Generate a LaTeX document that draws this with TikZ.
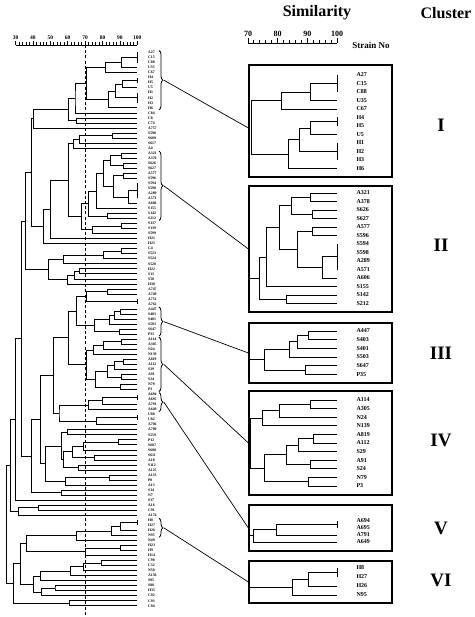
\documentclass[tikz,border=0pt]{standalone}
\usepackage{fontspec}
\setmainfont{Liberation Serif}
\usetikzlibrary{calc,positioning,decorations.pathreplacing}

% dendrogram helpers
\newcommand{\dmerge}[4]{% name, similarity, upper child, lower child
  \coordinate (jtmp) at ($(#3)!0.5!(#4)$);
  \coordinate (#1) at (jtmp -| #2,0);
  \draw (#3) -| (#1) |- (#4);}
\newcommand{\samebar}[3]{% name, first leaf, last leaf (100 % identical)
  \draw (#2) -- (#3);
  \coordinate (#1) at ($(#2)!0.5!(#3)$);}

\begin{document}
\begin{tikzpicture}[
    x=1pt, y=-1pt,
    % left dendrogram: x = similarity, y = strain index
    lefttree/.style={shift={(-36.7pt,-52.5pt)}, x=1.74pt, y=-5.03pt, line width=0.7pt},
    leftaxis/.style={shift={(-36.7pt,0pt)}, x=1.74pt, y=-1pt, line width=0.7pt},
    % cluster panels: x = similarity, y = pixels
    rightpanel/.style={shift={(40.1pt,0pt)}, x=2.97pt, y=-1pt, line width=0.9pt},
    llbl/.style={font=\bfseries\fontsize{3.8}{4}\selectfont, inner sep=0pt},
    rlbl/.style={font=\bfseries\fontsize{6}{7}\selectfont, inner sep=0pt},
    lscl/.style={font=\bfseries\fontsize{5.5}{6}\selectfont, inner sep=0pt},
    rscl/.style={font=\bfseries\fontsize{8}{9}\selectfont, inner sep=0pt},
    ttl/.style={font=\bfseries\fontsize{16}{18}\selectfont},
    roman/.style={font=\bfseries\fontsize{19}{21}\selectfont},
    clbox/.style={draw, line width=1.2pt, minimum width=143pt, inner sep=0pt},
    clbrace/.style={decorate, decoration={brace, amplitude=4pt}, line width=0.8pt},
    link/.style={line width=0.7pt}
]
\useasboundingbox (0,0) rectangle (474,617);

% ====================
% titles
% ====================
\node[ttl] (simtitle) at (317,13) {Similarity};
\node[ttl] (cltitle) at (446,13) {Cluster};

% ====================
% left scale and 70 % cut-off
% ====================
\begin{scope}[leftaxis]
  \draw (30,45) -- (100,45);
  \foreach \v in {30,32,...,100} \draw (\v,45) -- (\v,42.5);
  \foreach \v in {30,40,...,100} {
    \draw (\v,45) -- (\v,41);
    \node[lscl] at (\v,37.5) {\v};
  }
  \draw[dashed, dash pattern=on 3pt off 2.2pt, line width=0.8pt] (70,45) -- (70,617);
\end{scope}

% ====================
% right scale
% ====================
\begin{scope}[rightpanel]
  \draw (70,43) -- (100,43);
  \foreach \v in {70,72,...,100} \draw (\v,43) -- (\v,40.5);
  \foreach \v in {70,80,90,100} {
    \draw (\v,43) -- (\v,38.5);
    \node[rscl] at (\v,33.5) {\v};
  }
\end{scope}
\node[rscl, font=\bfseries\fontsize{9}{10}\selectfont] (strain) at (371,45) {Strain No};

% ====================
% full dendrogram (left)
% ====================
\begin{scope}[lefttree]
  \foreach \nm [count=\i from 0] in {A27,C15,C88,U35,C67,H4,H5,U5,H1,H2,H3,H6,
      C84,C8,C74,A757,S590,S609,S617,A4,
      A321,A378,S626,S627,A577,S596,S594,S598,A289,A571,A606,S155,S142,S212,
      S137,S139,S599,H21,H25,C4,S523,S524,S528,H22,S13,S50,H30,A747,A749,A751,A762,
      A447,S403,S401,S503,S647,P35,
      A114,A305,N24,N139,A819,A112,S29,A91,S24,N79,P3,
      A694,A695,A791,A649,
      U80,U82,A706,A790,S559,P12,S607,S608,S611,A18,S112,A125,A133,P8,A13,S34,N7,S37,A16,C91,A174,
      H8,H27,H26,N95,
      N49,H23,H9,H14,C98,C32,N50,A150,S85,S88,H35,C92,C93,C94} {
    \coordinate (L\i) at (100,\i);
    \node[llbl, right=10.5pt of L\i] {\nm};
  }
  % identical strains
  \foreach \nd/\fa/\fb in {a1/L0/L2,a4/L5/L6,a6/L8/L10,b5/L26/L29,m2/L49/L50,e1/L68/L69,m6/L72/L73,f1/L93/L94}
    {\samebar{\nd}{\fa}{\fb}}
  % merges, from leaves to root
  \foreach \nd/\sm/\ca/\cb in {a2/90.6/a1/L3,a3/81.4/a2/L4,a5/91.6/a4/L7,a7/87.2/a5/a6,a8/83.4/a7/L11,cI/70.5/a3/a8,
      t1/64.2/cI/L12,t2/64.8/L13/L14,t3/60.4/t1/t2,t4/40.2/t3/L15,
      t5/85.8/L16/L17,t6/66.7/t5/L18,t7/63/t6/L19,
      b1/90.9/L20/L21,b2/91.8/L22/L23,b3/84.7/b1/b2,b4/91.8/L24/L25,b6/95/b5/L30,b7/86.5/b4/b6,
      b8/80.5/b3/b7,b9/76.3/b8/L31,b10/83/L32/L33,cII/72/b9/b10,
      t8/91/L34/L35,t9/74.4/t8/L36,t10/68/cII/t9,t11/60.4/t7/t10,t12/50/t11/L37,t13/46/t12/L38,t14/39.3/t4/t13,
      t15/91/L39/L40,t16/80.5/t15/L41,t17/57.5/t16/L42,t18/66.5/L43/L44,t19/63.7/t18/L45,t20/60/t19/L46,
      t21/49/t17/t20,top/35.5/t14/t21,
      m1/82.5/L47/L48,m3/70.6/m1/m2,
      c1/90.3/L51/L52,c2/86.6/c1/L53,c3/84.1/c2/L54,c4/89.5/L55/L56,cIII/75.4/c3/c4,m4/64.8/m3/cIII,
      d1/91.1/L57/L58,d2/80.5/d1/L59,d3/75/d2/L60,d4/92/L61/L62,d5/87/d4/L63,d6/91/L64/L65,
      d7/82.8/d5/d6,d8/90.3/L66/L67,d9/75.7/d7/d8,cIV/70.7/d3/d9,m5/60.4/m4/cIV,
      e2/79.7/e1/L70,cV/71.7/e2/L71,m7/76.6/m6/L74,m8/55/cV/m7,m9/51.7/m5/m8,
      m10/60/L75/L76,m11/89/L77/L78,m12/69/m11/L79,m13/75.6/L80/L81,m14/62.4/m12/m13,m15/66/L82/L83,
      m16/57.5/m14/m15,m17/56.5/m10/m16,m18/84/L84/L85,m19/58.5/m18/L86,m20/47/m17/m19,m21/44/m9/m20,
      m22/56.5/L87/L88,m23/39.3/m21/m22,
      mt/33.5/top/m23,u1/29.7/mt/L89,u2/43/L90/L91,u3/31.6/u2/L92,up/26.8/u1/u3,
      f2/90.3/f1/L95,cVI/85/f2/L96,l1/65/cVI/L97,l2/90/L98/L99,l3/70/l2/L100,l4/36.4/l1/l3,
      l5/79.5/L101/L102,l6/69/l5/L103,l7/61.3/l6/L104,l8/44/l7/L105,l9/52.7/L106/L107,l10/45/l9/L108,
      l11/40/l8/l10,l12/32.6/l4/l11,l13/61/L109/L110,low/28.7/l12/l13,root/24.5/up/low}
    {\dmerge{\nd}{\sm}{\ca}{\cb}}
\end{scope}

% ====================
% cluster panels (right)
% ====================
\node[clbox, minimum height=112pt] (boxI)   at (320.5,121) {};
\node[clbox, minimum height=126pt] (boxII)  at (320.5,249) {};
\node[clbox, minimum height=60pt]  (boxIII) at (320.5,353) {};
\node[clbox, minimum height=104pt] (boxIV)  at (320.5,443) {};
\node[clbox, minimum height=46pt]  (boxV)   at (320.5,528) {};
\node[clbox, minimum height=42pt]  (boxVI)  at (320.5,582) {};

\begin{scope}[rightpanel]
  % cluster I
  \foreach \nm [count=\k] in {A27,C15,C88,U35,C67,H4,H5,U5,H1,H2,H3,H6}
    {\coordinate (I\k) at (100,{75+8.5*(\k-1)});
     \node[rlbl, right=19pt of I\k] {\nm};}
  \samebar{iA}{I1}{I3}
  \dmerge{iB}{90.9}{iA}{I4}
  \dmerge{iC}{81.4}{iB}{I5}
  \samebar{iD}{I6}{I7}
  \dmerge{iE}{90.9}{iD}{I8}
  \samebar{iF}{I9}{I11}
  \dmerge{iG}{87.3}{iE}{iF}
  \dmerge{iH}{83.7}{iG}{I12}
  \dmerge{rI}{71.2}{iC}{iH}

  % cluster II
  \foreach \nm [count=\k] in {A321,A378,S626,S627,A577,S596,S594,S598,A289,A571,A606,S155,S142,S212}
    {\coordinate (II\k) at (100,{193+8.5*(\k-1)});
     \node[rlbl, right=19pt of II\k] {\nm};}
  \dmerge{iiA}{90.9}{II1}{II2}
  \dmerge{iiB}{91.8}{II3}{II4}
  \dmerge{iiC}{84.7}{iiA}{iiB}
  \dmerge{iiD}{91.8}{II5}{II6}
  \samebar{iiE}{II7}{II10}
  \dmerge{iiF}{95}{iiE}{II11}
  \dmerge{iiG}{86.5}{iiD}{iiF}
  \dmerge{iiH}{80.5}{iiC}{iiG}
  \dmerge{iiI}{76.3}{iiH}{II12}
  \dmerge{iiJ}{83}{II13}{II14}
  \dmerge{rII}{74}{iiI}{iiJ}
  \draw (rII) -- (rII -| 70.5,0);

  % cluster III
  \foreach \nm [count=\k] in {A447,S403,S401,S503,S647,P35}
    {\coordinate (III\k) at (100,{331+8.67*(\k-1)});
     \node[rlbl, right=19pt of III\k] {\nm};}
  \dmerge{iiiA}{90.3}{III1}{III2}
  \dmerge{iiiB}{86.6}{iiiA}{III3}
  \dmerge{iiiC}{84.1}{iiiB}{III4}
  \dmerge{iiiD}{89.5}{III5}{III6}
  \dmerge{rIII}{75.4}{iiiC}{iiiD}
  \draw (rIII) -- (rIII -| 70.5,0);

  % cluster IV
  \foreach \nm [count=\k] in {A114,A305,N24,N139,A819,A112,S29,A91,S24,N79,P3}
    {\coordinate (IV\k) at (100,{400+8.6*(\k-1)});
     \node[rlbl, right=19pt of IV\k] {\nm};}
  \dmerge{ivA}{91.1}{IV1}{IV2}
  \dmerge{ivB}{80.5}{ivA}{IV3}
  \dmerge{ivC}{75}{ivB}{IV4}
  \dmerge{ivD}{92}{IV5}{IV6}
  \dmerge{ivE}{87}{ivD}{IV7}
  \dmerge{ivF}{91}{IV8}{IV9}
  \dmerge{ivG}{82.8}{ivE}{ivF}
  \dmerge{ivH}{90.3}{IV10}{IV11}
  \dmerge{ivI}{75.7}{ivG}{ivH}
  \dmerge{rIV}{70.7}{ivC}{ivI}

  % cluster V
  \foreach \nm [count=\k] in {A694,A695,A791,A649}
    {\coordinate (V\k) at (100,{521+7*(\k-1)});
     \node[rlbl, right=19pt of V\k] {\nm};}
  \samebar{vA}{V1}{V2}
  \dmerge{vB}{79.7}{vA}{V3}
  \dmerge{rV}{71.8}{vB}{V4}
  \draw (rV) -- (rV -| 70.5,0);

  % cluster VI
  \foreach \nm [count=\k] in {H8,H27,H26,N95}
    {\coordinate (VI\k) at (100,{568+9*(\k-1)});
     \node[rlbl, right=19pt of VI\k] {\nm};}
  \samebar{viA}{VI1}{VI2}
  \dmerge{viB}{90.3}{viA}{VI3}
  \dmerge{rVI}{85.1}{viB}{VI4}
  \draw (rVI) -- (rVI -| 70.5,0);
\end{scope}

% cluster numerals
\node[roman] (numI)   at (441,125) {I};
\node[roman] (numII)  at (441,245) {II};
\node[roman] (numIII) at (441,353) {III};
\node[roman] (numIV)  at (441,440) {IV};
\node[roman] (numV)   at (441,528) {V};
\node[roman] (numVI)  at (441,580) {VI};

% ====================
% braces and links to the panels
% ====================
\draw[clbrace] ($(L0)+(21.7pt,2pt)$) -- ($(L11)+(21.7pt,-2pt)$);
\coordinate (tipI) at ($(L0)!0.5!(L11)+(26.5pt,0pt)$);
\draw[clbrace] ($(L20)+(21.7pt,2pt)$) -- ($(L33)+(21.7pt,-2pt)$);
\coordinate (tipII) at ($(L20)!0.5!(L33)+(26.5pt,0pt)$);
\draw[clbrace] ($(L51)+(21.7pt,2pt)$) -- ($(L56)+(21.7pt,-2pt)$);
\coordinate (tipIII) at ($(L51)!0.5!(L56)+(26.5pt,0pt)$);
\draw[clbrace] ($(L57)+(21.7pt,2pt)$) -- ($(L67)+(21.7pt,-2pt)$);
\coordinate (tipIV) at ($(L57)!0.5!(L67)+(26.5pt,0pt)$);
\draw[clbrace] ($(L68)+(21.7pt,2pt)$) -- ($(L71)+(21.7pt,-2pt)$);
\coordinate (tipV) at ($(L68)!0.5!(L71)+(26.5pt,0pt)$);
\draw[clbrace] ($(L93)+(21.7pt,2pt)$) -- ($(L96)+(21.7pt,-2pt)$);
\coordinate (tipVI) at ($(L93)!0.5!(L96)+(26.5pt,0pt)$);

\draw[link] (tipI) -- ([yshift=-7pt]boxI.west);
\draw[link] (tipII) -- (boxII.west);
\draw[link] (tipIII) -- (boxIII.west);
\draw[link] (tipIV) -- (boxIV.west);
\draw[link] (tipV) -- (boxV.west);
\draw[link] (tipVI) -- (boxVI.west);

\end{tikzpicture}
\end{document}
